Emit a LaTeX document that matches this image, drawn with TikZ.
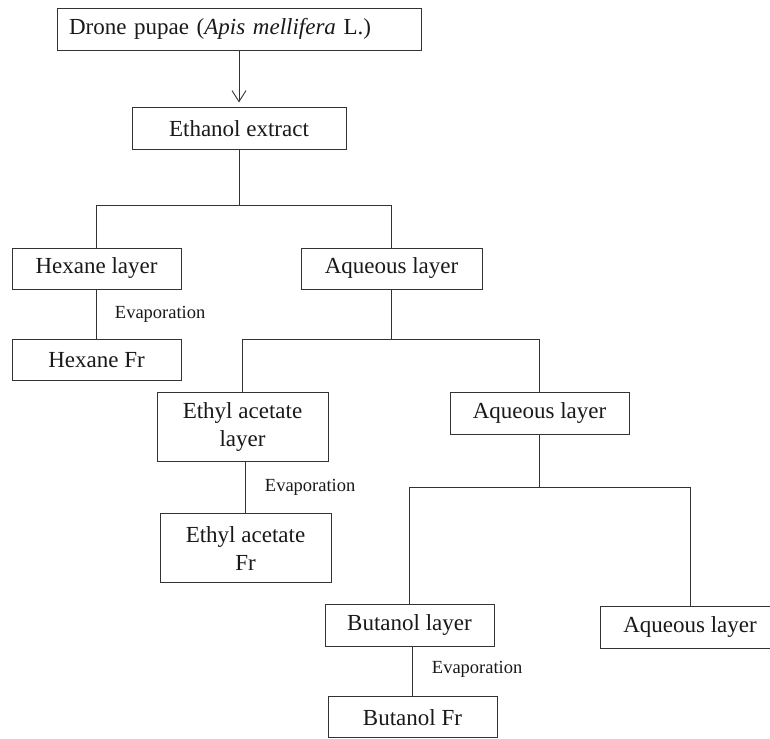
\documentclass[tikz,border=0pt]{standalone}
\usepackage{fontspec}
\setmainfont{Liberation Serif}
\usetikzlibrary{positioning, arrows.meta}

\tikzset{
  box/.style={draw=black!80, line width=0.9pt, text=black!90, inner sep=0pt,
    minimum width=169pt, minimum height=42pt, align=center,
    font=\fontsize{23}{28}\selectfont},
  evap/.style={text=black!90, inner sep=0pt, font=\fontsize{18.5}{22}\selectfont},
  link/.style={draw=black!80, line width=0.9pt}
}

\begin{document}
\begin{tikzpicture}[x=1pt, y=-1pt]
    \useasboundingbox (0,0) rectangle (770,738);

    % cajas
    \node [box, minimum width=364pt, text width=340pt, inner xsep=12pt, align=left] (drone) at (239,29) {Drone pupae (\textit{Apis mellifera} L.)};
    \node [box, minimum width=214pt] (ethanol) [below=57pt of drone] {Ethanol extract};
    \node [box, minimum height=41pt] (hexL) at (96.5,268.5) {Hexane layer};
    \node [box, minimum height=41pt] (hexF) [below=50pt of hexL] {Hexane Fr};
    \node [box, minimum width=181pt, minimum height=41pt] (aq1) at (391.5,268.5) {Aqueous layer};
    \node [box, minimum width=171pt, minimum height=69pt] (ethL) at (242.5,426.5) {Ethyl acetate\\layer};
    \node [box, minimum width=171pt, minimum height=69pt] (ethF) [below=52pt of ethL, xshift=3pt] {Ethyl acetate\\Fr};
    \node [box, minimum width=179pt] (aq2) at (539.5,413) {Aqueous layer};
    \node [box] (butL) at (409.5,625) {Butanol layer};
    \node [box, minimum height=41pt] (butF) [below=50pt of butL, xshift=3pt] {Butanol Fr};
    \node [box, minimum width=179pt] (aq3) at (690,627) {Aqueous layer};

    % puntos de reparto
    \coordinate [below=55pt of ethanol.south] (s1);
    \coordinate [below=50pt of aq1.south] (s2);
    \coordinate [below=53pt of aq2.south] (s3);

    % lineas
    \draw [link, -{Straight Barb[length=11pt, width=14pt]}, shorten >=5pt] (drone.south) -- (ethanol.north);
    \draw [link] (ethanol.south) -- (s1);
    \draw [link] (hexL.north) |- (s1) -| (aq1.north);
    \draw [link] (hexF.north) -- (hexF.north |- hexL.south)
        node [evap, midway, right=18pt] {Evaporation};
    \draw [link] (aq1.south) -- (s2);
    \draw [link] (ethL.north) |- (s2) -| (aq2.north);
    \draw [link] (ethF.north) -- (ethF.north |- ethL.south)
        node [evap, midway, right=19pt] {Evaporation};
    \draw [link] (aq2.south) -- (s3);
    \draw [link] (butL.north) |- (s3) -| (aq3.north);
    \draw [link] (butF.north) -- (butF.north |- butL.south)
        node [evap, midway, right=19pt, yshift=2pt] {Evaporation};
\end{tikzpicture}
\end{document}
